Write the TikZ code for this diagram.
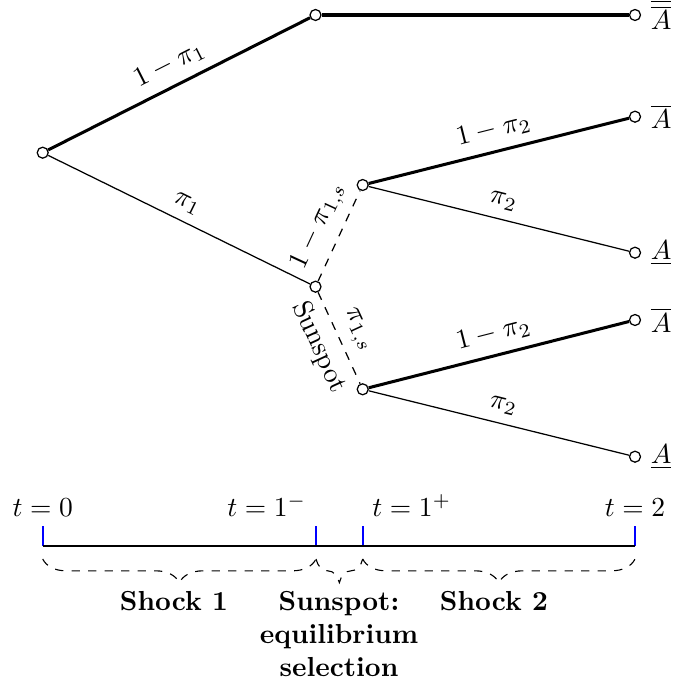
\documentclass[tikz,border=0pt]{standalone}
\usetikzlibrary{decorations.pathreplacing}
\begin{document}
\begin{tikzpicture}[x=0.3636pt,y=-0.3636pt,
  dot/.style={circle,draw,fill=white,inner sep=0pt,minimum size=4pt,line width=0.45pt},
  thickedge/.style={line width=1.1pt},
  thinedge/.style={line width=0.45pt},
  dashedge/.style={line width=0.45pt,dashed},
  lab/.style={midway,sloped,above},
  tickmark/.style={blue,line width=0.7pt},
  axis/.style={line width=0.9pt},
  brc/.style={decorate,decoration={brace,mirror,amplitude=8.6pt},dashed,line width=0.4pt},
  blabel/.style={anchor=north,font=\bfseries,align=center}
]
\useasboundingbox (0,0) rectangle (673,688);
% tree nodes
\node[dot] (r) at (42.7,152.7) {};
\node[dot] (tp) at (315.5,15) {};
\node[dot] (e0) at (635,15) {};
\node[dot] (s) at (315.5,286.7) {};
\node[dot] (um) at (362.7,185) {};
\node[dot] (lm) at (362.7,389.3) {};
\node[dot] (e1) at (635,116.7) {};
\node[dot] (e2) at (635,252.7) {};
\node[dot] (e3) at (635,320) {};
\node[dot] (e4) at (635,456.7) {};
% end labels
\node[right] (a0) at (e0.east) {$\overline{\overline{A}}$};
\node[right] (a1) at (e1.east) {$\overline{A}$};
\node[right] (a2) at (e2.east) {$\underline{A}$};
\node[right] (a3) at (e3.east) {$\overline{A}$};
\node[right] (a4) at (e4.east) {$\underline{A}$};
% edges
\draw[thickedge] (r) -- (tp) node[lab] {$1-\pi_1$};
\draw[thickedge] (tp) -- (e0);
\draw[thinedge] (r) -- (s) node[lab] {$\pi_1$};
\draw[dashedge] (s) -- (um) node[lab] {$1-\pi_{1,s}$};
\draw[dashedge] (s) -- (lm) node[lab] {$\pi_{1,s}$} node[midway,sloped,below] {Sunspot};
\draw[thickedge] (um) -- (e1) node[lab] {$1-\pi_2$};
\draw[thinedge] (um) -- (e2) node[lab] {$\pi_2$};
\draw[thickedge] (lm) -- (e3) node[lab] {$1-\pi_2$};
\draw[thinedge] (lm) -- (e4) node[lab] {$\pi_2$};
% timeline
\coordinate (t0) at (42.7,546);
\coordinate (t1) at (316,546);
\coordinate (t2) at (362.7,546);
\coordinate (t3) at (635,546);
\coordinate (t0u) at (42.7,526);
\coordinate (t1u) at (316,526);
\coordinate (t2u) at (362.7,526);
\coordinate (t3u) at (635,526);
\draw[tickmark] (t0) -- (t0u);
\draw[tickmark] (t1) -- (t1u);
\draw[tickmark] (t2) -- (t2u);
\draw[tickmark] (t3) -- (t3u);
\draw[axis] (t0) -- (t3);
\node[above] (lt0) at (t0u) {$t=0$};
\node[above left] (lt1) at (t1u) {$t=1^-$};
\node[above right] (lt2) at (t2u) {$t=1^+$};
\node[above] (lt3) at (t3u) {$t=2$};
% braces
\coordinate (b0) at (42.7,559);
\coordinate (b1) at (316,559);
\coordinate (b2) at (362.7,559);
\coordinate (b3) at (635,559);
\draw[brc] (b0) -- (b1);
\draw[brc] (b1) -- (b2);
\draw[brc] (b2) -- (b3);
\node[blabel] (sh1) at (174,582) {Shock 1};
\node[blabel] (ss) at (339,582) {Sunspot:\\equilibrium\\selection};
\node[blabel] (sh2) at (494,582) {Shock 2};
\end{tikzpicture}
\end{document}
